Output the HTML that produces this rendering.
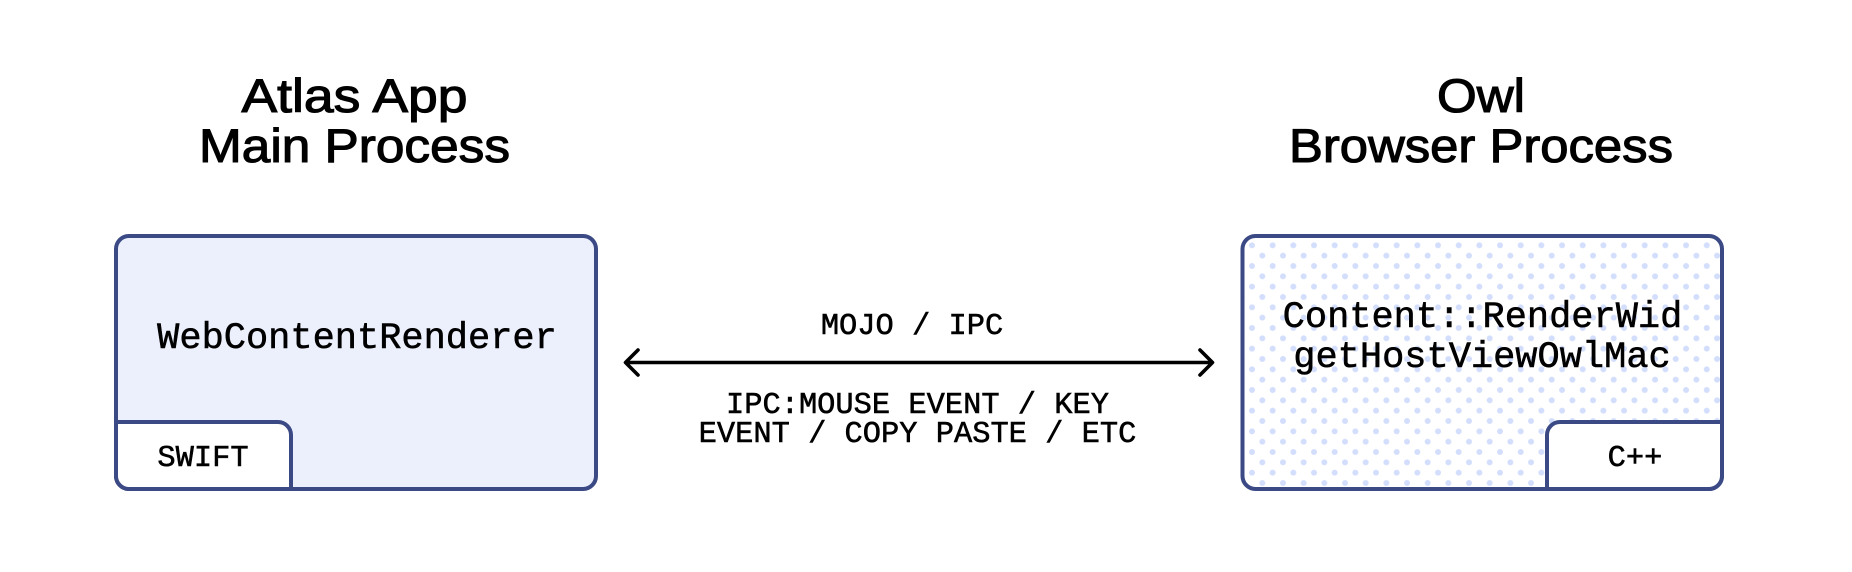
<!DOCTYPE html>
<html><head><meta charset="utf-8"><style>
html,body{margin:0;padding:0;background:#fff;width:1852px;height:572px;overflow:hidden}
svg{display:block}
.t{font-family:"Liberation Sans",sans-serif;font-size:47px;fill:#000;stroke:#000;stroke-width:1.1px;text-anchor:middle}
.m{font-family:"Liberation Mono",monospace;fill:#000;text-anchor:middle;stroke:#000;stroke-width:.55px}
.l{font-size:30.4px}.b{font-size:37px}
</style></head><body>
<svg width="1852" height="572" viewBox="0 0 1852 572" xmlns="http://www.w3.org/2000/svg">
<defs>
<pattern id="d" x="1252" y="245.3" width="20.67" height="20.67" patternUnits="userSpaceOnUse">
<circle cx="0" cy="0" r="3" fill="#d3defd"/><circle cx="20.67" cy="0" r="3" fill="#d3defd"/><circle cx="0" cy="20.67" r="3" fill="#d3defd"/><circle cx="20.67" cy="20.67" r="3" fill="#d3defd"/><circle cx="10.33" cy="10.33" r="3" fill="#d3defd"/>
</pattern>
</defs>
<text class="t" x="354.500" y="112" textLength="226" lengthAdjust="spacingAndGlyphs">Atlas App</text>
<text class="t" x="354.500" y="162" textLength="311" lengthAdjust="spacingAndGlyphs">Main Process</text>
<text class="t" x="1481" y="112" textLength="88" lengthAdjust="spacingAndGlyphs">Owl</text>
<text class="t" x="1481" y="162" textLength="384" lengthAdjust="spacingAndGlyphs">Browser Process</text>

<rect x="116" y="236" width="480" height="253" rx="13" fill="#ecf0fc" stroke="#3b4a85" stroke-width="4"/>
<path d="M116 422H278a13 13 0 0 1 13 13V489H129a13 13 0 0 1 -13 -13Z" fill="#fff" stroke="#3b4a85" stroke-width="4"/>
<text class="m b" x="357" y="348">WebContentRenderer</text>
<text class="m l" x="203" y="466">SWIFT</text>

<rect x="1242.500" y="236" width="479.500" height="253" rx="13" fill="#fff"/>
<rect x="1242.500" y="236" width="479.500" height="253" rx="13" fill="url(#d)" stroke="#3b4a85" stroke-width="4"/>
<path d="M1722 422H1560a13 13 0 0 0 -13 13V489H1709a13 13 0 0 0 13 -13Z" fill="#fff" stroke="#3b4a85" stroke-width="4"/>
<text class="m b" x="1482.500" y="327">Content::RenderWid</text>
<text class="m b" x="1482" y="367">getHostViewOwlMac</text>
<text class="m l" x="1635" y="466">C++</text>

<path d="M626 362.500H1212M638 350L625.500 362.500L638 375M1200 350L1212.500 362.500L1200 375" fill="none" stroke="#000" stroke-width="3.600" stroke-linecap="round" stroke-linejoin="round"/>
<text class="m l" x="912" y="334">MOJO / IPC</text>
<text class="m l" x="917.500" y="413">IPC:MOUSE EVENT / KEY</text>
<text class="m l" x="917.500" y="442">EVENT / COPY PASTE / ETC</text>
</svg>
</body></html>
